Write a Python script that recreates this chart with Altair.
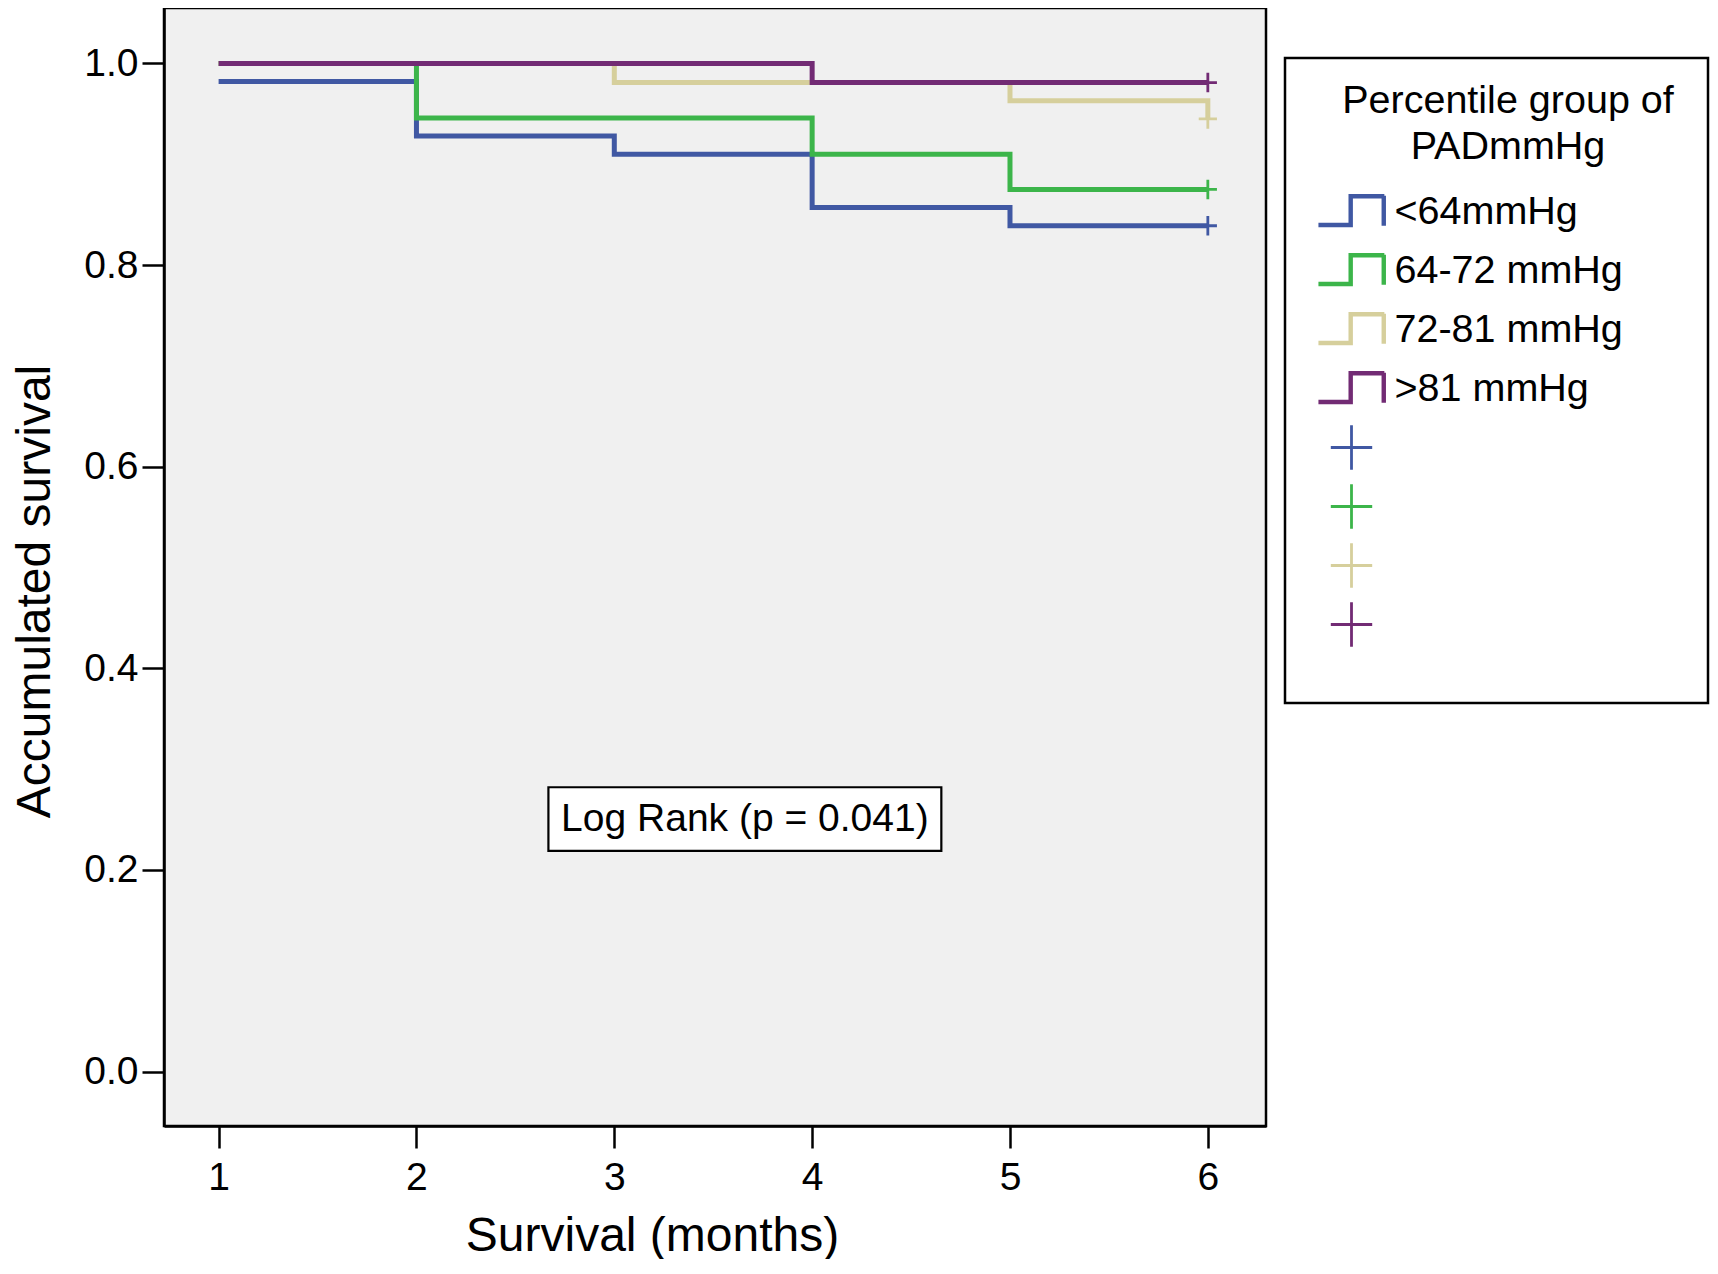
import altair as alt
import pandas as pd

# ---------------- data ----------------
months = [1, 2, 3, 4, 5, 6]
groups = ["<64mmHg", "64-72 mmHg", "72-81 mmHg", ">81 mmHg"]
surv_lt64 = [0.982, 0.928, 0.910, 0.857, 0.839, 0.839]
surv_64_72 = [1.0, 0.946, 0.946, 0.910, 0.875, 0.875]
surv_72_81 = [1.0, 1.0, 0.981, 0.981, 0.963, 0.945]
surv_gt81 = [1.0, 1.0, 1.0, 0.981, 0.981, 0.981]
series = [surv_lt64, surv_64_72, surv_72_81, surv_gt81]

censor_keys = ["censored 1", "censored 2", "censored 3", "censored 4"]
censor_time = [6, 6, 6, 6]
censor_surv = [0.839, 0.875, 0.945, 0.981]

colors = ["#4058a3", "#3cb54a", "#d6cf9c", "#722b74"]

x_ticks = [1, 2, 3, 4, 5, 6]
y_ticks = [0.0, 0.2, 0.4, 0.6, 0.8, 1.0]

annot_text = ["Log Rank (p = 0.041)"]
annot_x1, annot_x2 = [2.667], [4.653]
annot_y1, annot_y2 = [0.282], [0.219]
annot_xc, annot_yc = [3.66], [0.2505]

legend_title = ["Percentile group of", "PADmmHg"]

# ---------------- tables ----------------
rows = []
for g, vals in zip(groups, series):
    for t, s in zip(months, vals):
        rows.append({"time": t, "surv": s, "key": g})
lines_df = pd.DataFrame(rows)
censor_df = pd.DataFrame({"time": censor_time, "surv": censor_surv, "key": censor_keys})
annot_df = pd.DataFrame({"x1": annot_x1, "x2": annot_x2, "y1": annot_y1, "y2": annot_y2,
                         "xc": annot_xc, "yc": annot_yc, "label": annot_text})
deco_df = pd.DataFrame({"d": [0]})

all_keys = groups + censor_keys
# leading move-to commands only enlarge the symbol's bounds so every legend row is equally tall
step_path = ("M0,-0.77M0,0.77"
             "M-1.15,0.5L0,0.5L0,-0.5L1.15,-0.5L1.15,0.5"
             "M-1.15,0.444L-0.056,0.444L-0.056,-0.556L1.094,-0.556L1.094,0.5")
cross_path = "M-0.72,0L0.72,0M0,-0.77L0,0.77"

FONT = "Liberation Sans, Arial, Helvetica, sans-serif"
label_expr = "indexof(datum.label, 'censored') == 0 ? '' : datum.label"

color_scale = alt.Scale(domain=all_keys, range=colors + colors)
shape_scale = alt.Scale(domain=all_keys, range=[step_path] * 4 + [cross_path] * 4)

x_enc = alt.X("time:Q", scale=alt.Scale(domain=[0.724, 6.294], nice=False, zero=False),
              axis=alt.Axis(values=x_ticks, format="d", title="Survival (months)",
                            titleX=488, titleY=124, titleBaseline="alphabetic",
                            titleAlign="center", labelPadding=10))
y_enc = alt.Y("surv:Q", scale=alt.Scale(domain=[-0.054, 1.055], nice=False, zero=False),
              axis=alt.Axis(values=y_ticks, format=".1f", title="Accumulated survival",
                            titleX=-115, titleY=583, titleBaseline="alphabetic",
                            titleAlign="center", titleAngle=270, labelPadding=4))

lines = alt.Chart(lines_df).mark_line(interpolate="step-after", strokeWidth=5).encode(
    x=x_enc, y=y_enc,
    color=alt.Color("key:N", scale=color_scale, sort=all_keys,
                    legend=alt.Legend(title=None, labelExpr=label_expr)),
)

censor = alt.Chart(censor_df).mark_point(filled=False, size=640, strokeWidth=2.8, opacity=1).encode(
    x="time:Q", y="surv:Q",
    color=alt.Color("key:N", scale=color_scale, sort=all_keys,
                    legend=alt.Legend(title=None, labelExpr=label_expr)),
    shape=alt.Shape("key:N", scale=shape_scale, sort=all_keys,
                    legend=alt.Legend(title=None, labelExpr=label_expr)),
)

box = alt.Chart(annot_df).mark_rect(fill="white", stroke="black", strokeWidth=2.2).encode(
    x="x1:Q", x2="x2:Q", y="y1:Q", y2="y2:Q")
box_text = alt.Chart(annot_df).mark_text(fontSize=39, font=FONT, color="black",
                                         align="center", baseline="middle").encode(
    x="xc:Q", y="yc:Q", text="label:N")

legend_frame = alt.Chart(deco_df).mark_rect(filled=False, stroke="black", strokeWidth=2.5).encode(
    x=alt.value(1121), x2=alt.value(1544), y=alt.value(50), y2=alt.value(695))
legend_head = alt.Chart(deco_df).mark_text(fontSize=39.5, font=FONT, color="black",
                                           align="center", baseline="alphabetic",
                                           lineHeight=46).encode(
    x=alt.value(1344), y=alt.value(105), text=alt.value(legend_title))

chart = alt.layer(lines, censor, box, box_text, legend_frame, legend_head).properties(
    width=1102, height=1118,
    autosize=alt.AutoSizeParams(type="none"),
    padding={"left": 156, "top": 0, "right": 444, "bottom": 133},
    background="white",
).configure_view(
    fill="#f0f0f0", stroke="black", strokeWidth=2.5
).configure_axis(
    grid=False, domainColor="black", domainWidth=2.5, tickColor="black", tickWidth=2.5,
    tickSize=22, labelFontSize=39, labelFont=FONT, labelColor="black",
    titleFont=FONT, titleFontSize=48, titleFontWeight="normal", titleColor="black",
).configure_legend(
    orient="none", legendX=1157, legendY=173, symbolSize=3306, rowPadding=0,
    labelOffset=12.5, labelFontSize=39.5, labelFont=FONT, labelColor="black",
    symbolStrokeWidth=2.8, padding=0, labelLimit=400,
)

chart.save("out.html", embed_options={"renderer": "svg", "actions": False})
